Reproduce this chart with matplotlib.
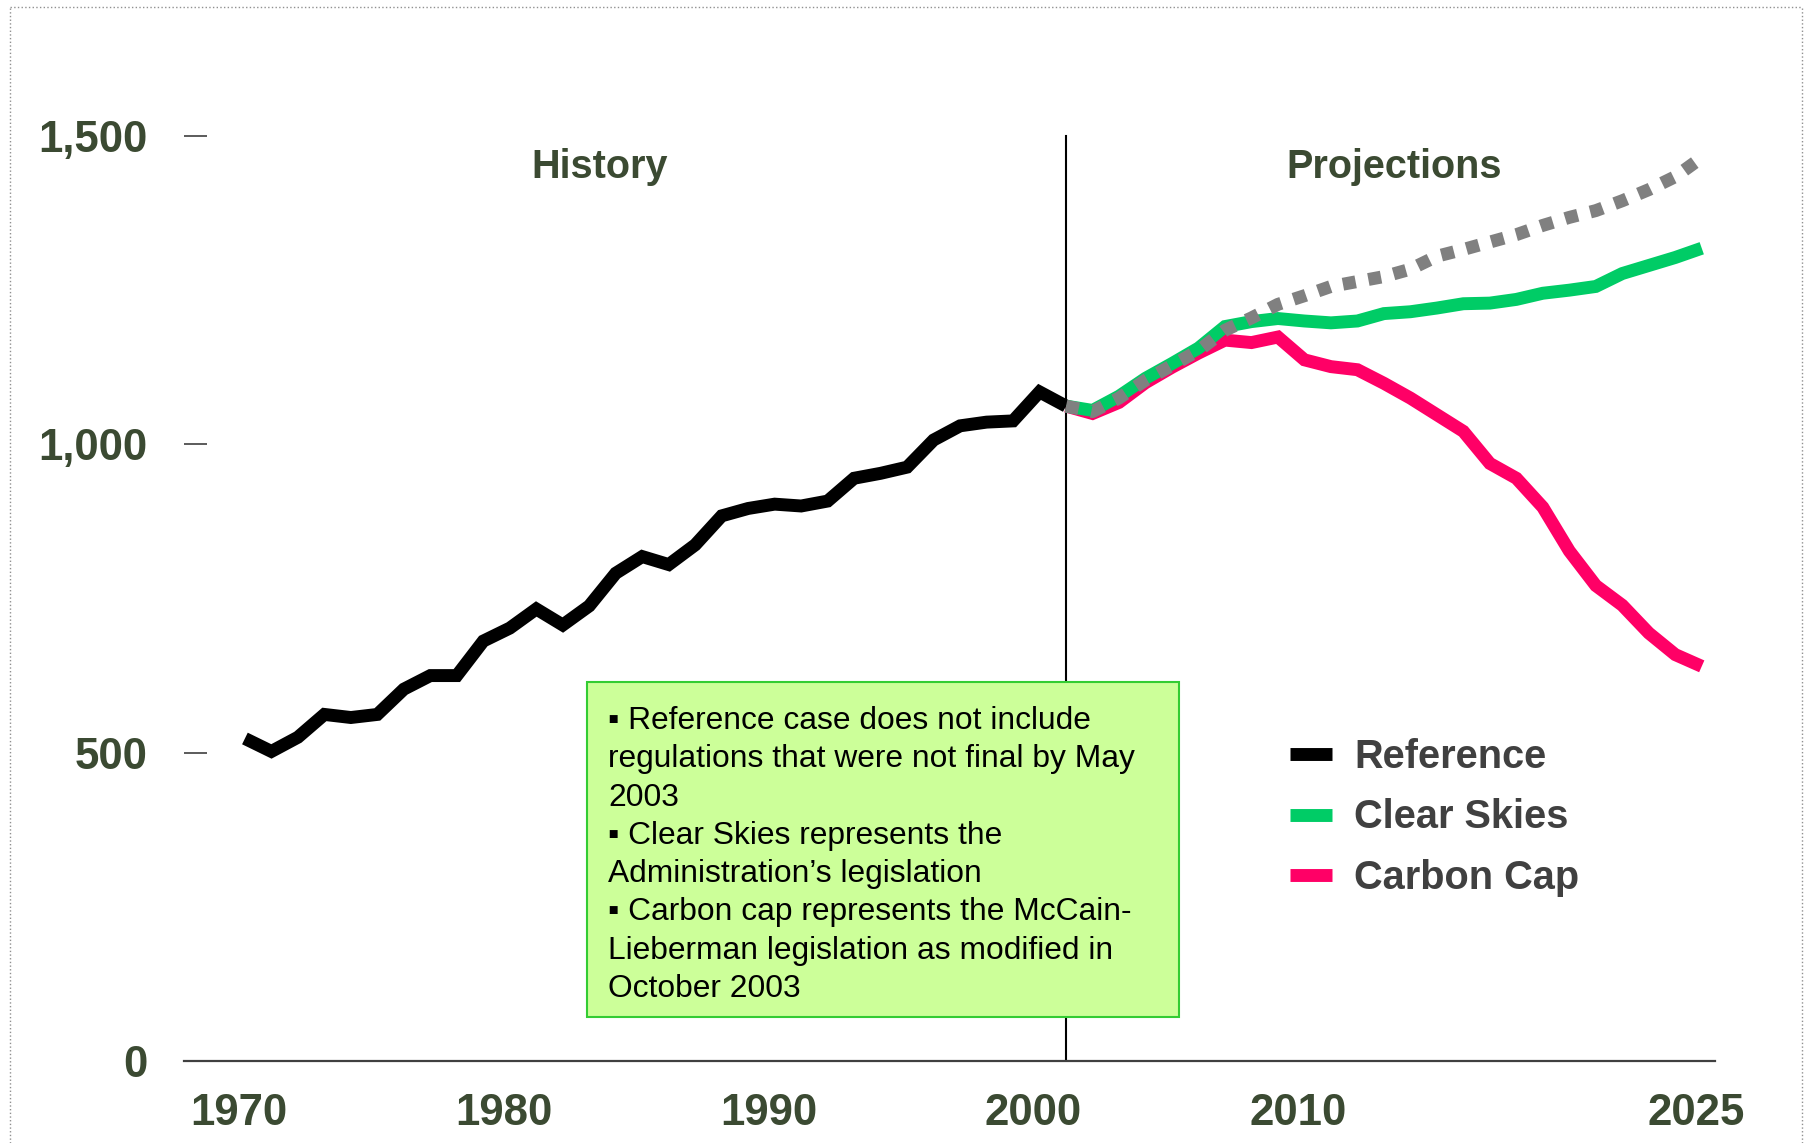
import numpy as np
import matplotlib
matplotlib.use('Agg')
import matplotlib.pyplot as plt
from matplotlib.lines import Line2D
from matplotlib.patches import Rectangle
from matplotlib.transforms import ScaledTranslation

plt.rcParams['font.family'] = ['Liberation Sans', 'DejaVu Sans']

# history (1970-2001)
hist_years = np.arange(1970, 2002)
hist_vals = [523, 502, 525, 562, 557, 562, 603, 625, 625, 681, 702, 733, 707, 738, 791, 818,
             805, 837, 884, 896, 903, 900, 908, 945, 953, 963, 1007, 1030, 1036, 1038, 1085, 1062]

# projections (2001-2025)
proj_years = np.arange(2001, 2026)
ref_proj = [1062, 1053, 1075, 1104, 1128, 1152, 1185, 1205, 1227, 1241, 1256, 1264, 1272,
            1284, 1305, 1316, 1328, 1340, 1355, 1368, 1379, 1395, 1413, 1434, 1465]
clear_skies = [1062, 1055, 1078, 1107, 1131, 1156, 1191, 1199, 1204, 1200, 1197, 1200, 1212,
               1215, 1221, 1228, 1229, 1235, 1245, 1250, 1256, 1277, 1290, 1303, 1318]
carbon_cap = [1062, 1050, 1068, 1100, 1125, 1148, 1169, 1165, 1174, 1137, 1126, 1121, 1099,
              1075, 1048, 1021, 969, 945, 898, 827, 771, 739, 694, 659, 640]

x_ticks = [1970, 1980, 1990, 2000, 2010, 2025]
y_ticks = [0, 500, 1000, 1500]
y_labels = ['0', '500', '1,000', '1,500']

notes = ('\u25aa Reference case does not include\n'
         'regulations that were not final by May\n'
         '2003\n'
         '\u25aa Clear Skies represents the\n'
         'Administration\u2019s legislation\n'
         '\u25aa Carbon cap represents the McCain-\n'
         'Lieberman legislation as modified in\n'
         'October 2003')

olive = '#3b4a32'
W, H = 1805, 1143

fig = plt.figure(figsize=(W / 100, H / 100), dpi=100)
ax = fig.add_axes([184 / W, (H - 1061) / H, (1715 - 184) / W, 1700 * 0.61667 / H])
ax.set_xlim(1967.7, 2025.5)
ax.set_ylim(0, 1700)

lw = 9.3
ax.plot(proj_years, carbon_cap, color='#ff0066', lw=lw, solid_joinstyle='miter',
        solid_capstyle='butt', label='Carbon Cap', zorder=3)
ax.plot(proj_years, clear_skies, color='#00cc66', lw=lw, solid_joinstyle='miter',
        solid_capstyle='butt', label='Clear Skies', zorder=4)
ax.plot(hist_years, hist_vals, color='black', lw=lw, solid_joinstyle='miter',
        solid_capstyle='butt', label='Reference', zorder=5)
ax.plot(proj_years, ref_proj, color='#808080', lw=9.3, linestyle=(0, (1.0, 1.0)),
        dash_capstyle='butt', zorder=6)

ax.plot([2001, 2001], [0, 1500], color='black', lw=1.5, zorder=2)

for s in ['top', 'right', 'left']:
    ax.spines[s].set_visible(False)
ax.spines['bottom'].set_color('#404040')
ax.spines['bottom'].set_linewidth(1.6)

ax.set_yticks(y_ticks)
ax.set_yticklabels(y_labels)
ax.set_xticks(x_ticks)
ax.set_xticklabels([str(x) for x in x_ticks])
ax.tick_params(axis='y', direction='in', length=16.5, width=1.2, color='#404040', pad=26.5,
               labelsize=31.5, labelcolor=olive)
ax.tick_params(axis='x', length=0, pad=23, labelsize=31.5, labelcolor=olive)
for lab in ax.get_yticklabels() + ax.get_xticklabels():
    lab.set_fontweight('bold')
shift = ScaledTranslation(-6 / 100, 0, fig.dpi_scale_trans)
for lab in ax.get_xticklabels():
    lab.set_transform(lab.get_transform() + shift)

ax.text(1983.4, 1450, 'History', ha='center', va='center', fontsize=28.5,
        fontweight='bold', color=olive)
ax.text(2013.4, 1450, 'Projections', ha='center', va='center', fontsize=28.5,
        fontweight='bold', color=olive)

# notes box
fig.patches.append(Rectangle((587 / W, 1 - 1016.5 / H), 592 / W, 335 / H,
                             transform=fig.transFigure, facecolor='#ccff99',
                             edgecolor='#33cc33', lw=1.5, zorder=1))
fig.text(608 / W, 1 - 855 / H, notes, ha='left', va='center', fontsize=22.9,
         color='black', linespacing=1.36, zorder=2)

handles, labels = ax.get_legend_handles_labels()
order = [2, 1, 0]
leg = ax.legend([handles[i] for i in order], [labels[i] for i in order],
                loc='center left', bbox_to_anchor=(1290 / W, 1 - 817.5 / H),
                bbox_transform=fig.transFigure, frameon=False, borderpad=0,
                borderaxespad=0, handlelength=1.06, handletextpad=0.55,
                labelspacing=0.56, labelcolor='#404040',
                prop={'family': 'Liberation Sans', 'weight': 'bold', 'size': 28.6})

# dotted slide border
for xs, ys in [([10, 10], [0, H - 7]), ([10, 1802], [H - 7, H - 7]), ([1802, 1802], [0, H - 7])]:
    fig.add_artist(Line2D([x / W for x in xs], [y / H for y in ys], transform=fig.transFigure,
                          color='#909090', lw=1, linestyle=':'))

fig.savefig('out.png', dpi=100)
